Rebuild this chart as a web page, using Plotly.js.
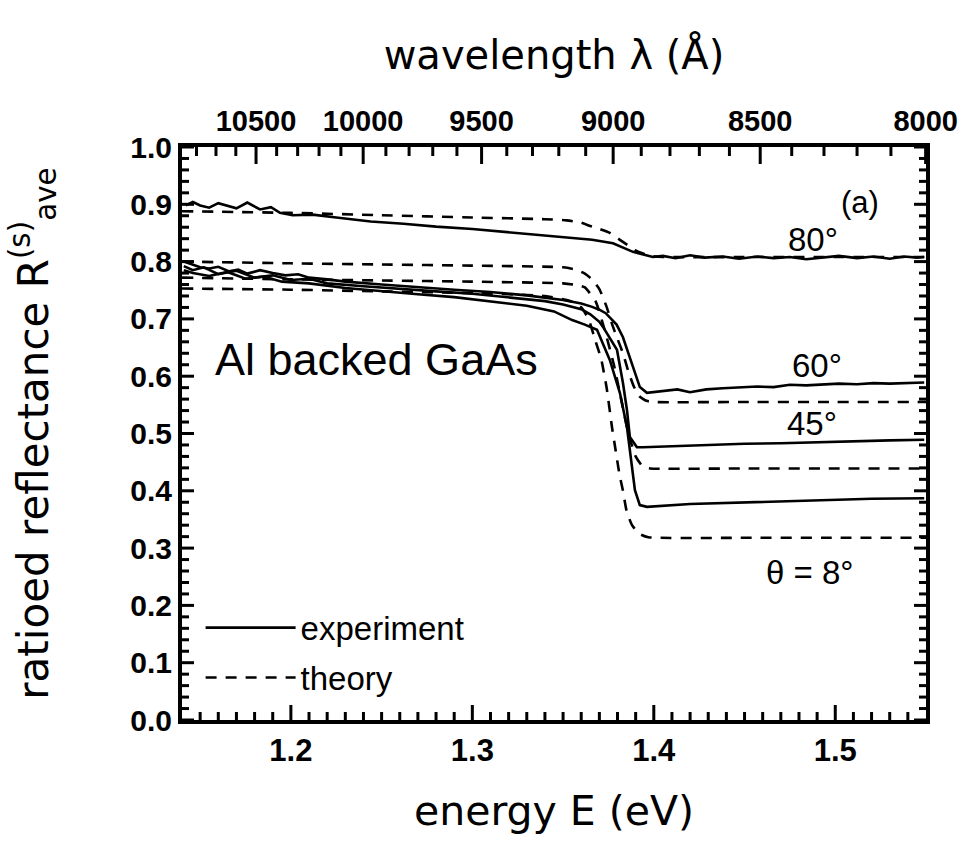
<!DOCTYPE html>
<html><head><meta charset="utf-8">
<script src="https://cdn.plot.ly/plotly-3.0.1.min.js"></script>
<style>html,body{margin:0;padding:0;background:#fff}#chart{width:979px;height:852px}</style>
</head><body><div id="chart"></div>
<script>
// ---- axis ticks ----
const energyTickVals = [1.2, 1.3, 1.4, 1.5];
const energyTickText = ['1.2', '1.3', '1.4', '1.5'];
const energyMinor = [1.15,1.16,1.17,1.18,1.19,1.21,1.22,1.23,1.24,1.25,1.26,1.27,1.28,1.29,1.31,1.32,1.33,1.34,1.35,1.36,1.37,1.38,1.39,1.41,1.42,1.43,1.44,1.45,1.46,1.47,1.48,1.49,1.51,1.52,1.53,1.54];
const reflTickVals = [0, 0.1, 0.2, 0.3, 0.4, 0.5, 0.6, 0.7, 0.8, 0.9, 1.0];
const reflTickText = ['0.0','0.1','0.2','0.3','0.4','0.5','0.6','0.7','0.8','0.9','1.0'];
const reflMinor = [0.02,0.04,0.06,0.08,0.12,0.14,0.16,0.18,0.22,0.24,0.26,0.28,0.32,0.34,0.36,0.38,0.42,0.44,0.46,0.48,0.52,0.54,0.56,0.58,0.62,0.64,0.66,0.68,0.72,0.74,0.76,0.78,0.82,0.84,0.86,0.88,0.92,0.94,0.96,0.98];
const wavelengthTicks = [10500, 10000, 9500, 9000, 8500, 8000];
const wavelengthMinor = [10800,10700,10600,10400,10300,10200,10100,9900,9800,9700,9600,9400,9300,9200,9100,8900,8800,8700,8600,8400,8300,8200,8100];
const HC = 12398.4; // eV*Angstrom, wavelength -> energy axis conversion

// ---- theta = 80 deg ----
const E80exp = [1.142,1.146,1.150,1.155,1.160,1.166,1.170,1.176,1.183,1.189,1.194,1.201,1.212,1.225,1.244,1.262,1.280,1.300,1.317,1.335,1.344,1.355,1.366,1.3775,1.383,1.3885,1.3995,1.405,1.412,1.420,1.428,1.438,1.447,1.457,1.466,1.475,1.484,1.493,1.502,1.512,1.521,1.530,1.538,1.545,1.549];
const R80exp = [0.898,0.904,0.898,0.894,0.902,0.896,0.893,0.903,0.891,0.895,0.885,0.881,0.882,0.877,0.870,0.866,0.861,0.857,0.852,0.847,0.844,0.841,0.838,0.832,0.824,0.817,0.808,0.810,0.806,0.811,0.807,0.809,0.805,0.809,0.806,0.808,0.804,0.807,0.810,0.806,0.809,0.805,0.809,0.807,0.808];
const E80th = [1.14,1.20,1.25,1.30,1.34,1.352,1.360,1.365,1.370,1.3758,1.3813,1.3855,1.3896,1.394,1.3979,1.405,1.45,1.50,1.55];
const R80th = [0.888,0.885,0.881,0.877,0.874,0.872,0.868,0.862,0.857,0.850,0.838,0.829,0.820,0.814,0.810,0.808,0.808,0.808,0.808];

// ---- theta = 60 deg ----
const E60exp = [1.141,1.146,1.150,1.155,1.160,1.166,1.171,1.176,1.183,1.190,1.197,1.204,1.210,1.220,1.230,1.250,1.270,1.290,1.310,1.330,1.350,1.360,1.366,1.370,1.3735,1.3758,1.3795,1.383,1.3858,1.3885,1.3923,1.3962,1.404,1.413,1.4199,1.429,1.438,1.447,1.457,1.466,1.475,1.484,1.4932,1.502,1.512,1.521,1.530,1.540,1.549];
const R60exp = [0.800,0.795,0.790,0.788,0.791,0.783,0.786,0.779,0.785,0.780,0.776,0.778,0.772,0.769,0.765,0.760,0.755,0.751,0.747,0.741,0.733,0.727,0.721,0.716,0.710,0.703,0.690,0.668,0.642,0.616,0.581,0.571,0.574,0.577,0.572,0.577,0.579,0.580,0.582,0.581,0.585,0.584,0.586,0.587,0.586,0.588,0.587,0.588,0.589];
const E60th = [1.14,1.20,1.25,1.30,1.35,1.357,1.362,1.366,1.370,1.374,1.377,1.380,1.383,1.386,1.389,1.392,1.396,1.40,1.45,1.50,1.55];
const R60th = [0.800,0.797,0.795,0.793,0.790,0.786,0.779,0.769,0.752,0.721,0.691,0.665,0.640,0.608,0.582,0.565,0.557,0.555,0.555,0.555,0.555];

// ---- theta = 45 deg ----
const E45exp = [1.141,1.146,1.152,1.160,1.170,1.180,1.190,1.200,1.210,1.220,1.240,1.260,1.280,1.300,1.320,1.340,1.350,1.360,1.365,1.370,1.372,1.3797,1.383,1.3852,1.3868,1.3907,1.394,1.410,1.43,1.45,1.47,1.49,1.51,1.53,1.549];
const R45exp = [0.792,0.785,0.790,0.778,0.784,0.772,0.776,0.768,0.770,0.762,0.757,0.752,0.748,0.744,0.738,0.731,0.725,0.717,0.708,0.695,0.686,0.646,0.588,0.541,0.494,0.476,0.476,0.478,0.480,0.482,0.483,0.485,0.487,0.488,0.489];
const E45th = [1.14,1.20,1.25,1.30,1.35,1.358,1.362,1.368,1.373,1.378,1.382,1.386,1.390,1.394,1.398,1.45,1.50,1.55];
const R45th = [0.772,0.769,0.767,0.765,0.762,0.759,0.755,0.730,0.680,0.620,0.560,0.500,0.460,0.442,0.439,0.439,0.439,0.439];

// ---- theta = 8 deg ----
const E8exp = [1.141,1.146,1.155,1.165,1.175,1.185,1.195,1.210,1.230,1.250,1.270,1.290,1.310,1.330,1.345,1.355,1.362,1.3687,1.3758,1.3813,1.3852,1.3879,1.3896,1.3923,1.3962,1.42,1.44,1.46,1.48,1.50,1.52,1.549];
const R8exp = [0.785,0.780,0.775,0.782,0.770,0.774,0.765,0.762,0.754,0.748,0.743,0.738,0.731,0.723,0.713,0.698,0.690,0.681,0.628,0.571,0.511,0.449,0.401,0.375,0.372,0.377,0.379,0.381,0.383,0.385,0.386,0.387];
const E8th = [1.14,1.20,1.25,1.30,1.34,1.355,1.360,1.364,1.368,1.371,1.374,1.377,1.379,1.381,1.383,1.385,1.388,1.392,1.397,1.45,1.50,1.55];
const R8th = [0.753,0.751,0.748,0.745,0.740,0.730,0.720,0.700,0.660,0.630,0.580,0.510,0.470,0.430,0.400,0.365,0.340,0.325,0.319,0.318,0.318,0.318];

// ---- labels ----
const angleLabels = ['80°', '60°', '45°', 'θ = 8°'];
const angleLabelE = [1.488, 1.490, 1.487, 1.486];
const angleLabelR = [0.839, 0.618, 0.518, 0.257];

const TXT = 'Liberation Sans, Arial, Helvetica, sans-serif';
const TITLE = 'DejaVu Sans, Verdana, sans-serif';

const W = 979, H = 852;
const M = {l: 182, r: 53, t: 147, b: 132};
const PLOT_W = W - M.l - M.r, PLOT_H = H - M.t - M.b;

function expTrace(x, y, show) {
  return {x: x, y: y, type: 'scatter', mode: 'lines', name: 'experiment',
    legendgroup: 'exp', showlegend: show, hoverinfo: 'skip',
    line: {color: '#000', width: 2.6}};
}
function thTrace(x, y, show) {
  return {x: x, y: y, type: 'scatter', mode: 'lines', name: 'theory',
    legendgroup: 'th', showlegend: show, hoverinfo: 'skip',
    line: {color: '#000', width: 2.6, dash: '11px,9px', shape: 'spline', smoothing: 0.5}};
}

// inward tick marks as layout line shapes, positioned on the axes' own values (len in px)
const TICK_LINE = {color: '#000', width: 3};
function hTickShapes(vals, len, atTop) {
  const f = len / PLOT_H;
  return vals.map(v => ({type: 'line', layer: 'above', xref: 'x', yref: 'paper',
    x0: v, x1: v, y0: atTop ? 1 : 0, y1: atTop ? 1 - f : f, line: TICK_LINE}));
}
function vTickShapes(vals, len, atRight) {
  const f = len / PLOT_W;
  return vals.map(v => ({type: 'line', layer: 'above', xref: 'paper', yref: 'y',
    y0: v, y1: v, x0: atRight ? 1 : 0, x1: atRight ? 1 - f : f, line: TICK_LINE}));
}
const shapes = [].concat(
  hTickShapes(energyTickVals, 15, false),
  hTickShapes(energyMinor, 8, false),
  hTickShapes(wavelengthTicks.map(l => HC / l), 17, true),
  hTickShapes(wavelengthMinor.map(l => HC / l), 9, true),
  vTickShapes(reflTickVals, 12, false),
  vTickShapes(reflMinor, 7, false),
  vTickShapes(reflTickVals, 12, true),
  vTickShapes(reflMinor, 7, true)
);

const traces = [
  expTrace(E80exp, R80exp, true),
  expTrace(E60exp, R60exp, false),
  expTrace(E45exp, R45exp, false),
  expTrace(E8exp, R8exp, false),
  thTrace(E80th, R80th, true),
  thTrace(E60th, R60th, false),
  thTrace(E45th, R45th, false),
  thTrace(E8th, R8th, false),
  {x: [], y: [], xaxis: 'x2', type: 'scatter', mode: 'lines', showlegend: false, hoverinfo: 'skip'}
];

const annotations = angleLabels.map((t, i) => ({
  text: t, x: angleLabelE[i], y: angleLabelR[i], xref: 'x', yref: 'y',
  showarrow: false, xanchor: 'center', yanchor: 'middle',
  font: {family: TXT, size: 33, color: '#000'}
}));
annotations.push({text: 'Al backed GaAs', x: 1.157, y: 0.630, xref: 'x', yref: 'y',
  showarrow: false, xanchor: 'left', yanchor: 'middle',
  font: {family: TXT, size: 45, color: '#000'}});
annotations.push({text: '(a)', x: 1.5135, y: 0.904, xref: 'x', yref: 'y',
  showarrow: false, xanchor: 'center', yanchor: 'middle',
  font: {family: TXT, size: 31, color: '#000'}});

const axisCommon = {showgrid: false, zeroline: false, showline: true, linecolor: '#000',
  linewidth: 4, ticks: ''};

const layout = {
  width: W, height: H,
  margin: M,
  paper_bgcolor: '#fff', plot_bgcolor: '#fff',
  showlegend: true,
  legend: {x: 0.025, y: 0.21, xanchor: 'left', yanchor: 'top', bgcolor: 'rgba(0,0,0,0)',
    font: {family: TXT, size: 33, color: '#000'}, itemwidth: 90, tracegroupgap: 4,
    traceorder: 'grouped'},
  xaxis: Object.assign({}, axisCommon, {
    range: [1.14, 1.55], tickmode: 'array', tickvals: energyTickVals, ticktext: energyTickText,
    mirror: true,
    tickfont: {family: TXT, size: 31, color: '#000', weight: 'bold'},
    title: {text: 'energy E (eV)', font: {family: TITLE, size: 41, color: '#000'}, standoff: 30}
  }),
  xaxis2: Object.assign({}, axisCommon, {
    overlaying: 'x', side: 'top', anchor: 'y',
    range: [1.14, 1.55], tickmode: 'array',
    tickvals: wavelengthTicks.map(l => HC / l), ticktext: wavelengthTicks.map(String),
    tickfont: {family: TXT, size: 29, color: '#000', weight: 'bold'},
    title: {text: 'wavelength λ (Å)', font: {family: TITLE, size: 40, color: '#000'}, standoff: 24}
  }),
  yaxis: Object.assign({}, axisCommon, {
    range: [0, 1], tickmode: 'array', tickvals: reflTickVals, ticktext: reflTickText,
    mirror: true,
    tickfont: {family: TXT, size: 30, color: '#000', weight: 'bold'},
    title: {text: 'ratioed reflectance R<sup>(s)</sup><sub>ave</sub>', font: {family: TITLE, size: 42, color: '#000'}, standoff: 70}
  }),
  shapes: shapes,
  annotations: annotations
};

Plotly.newPlot('chart', traces, layout, {displayModeBar: false, staticPlot: true});
</script>
</body></html>
